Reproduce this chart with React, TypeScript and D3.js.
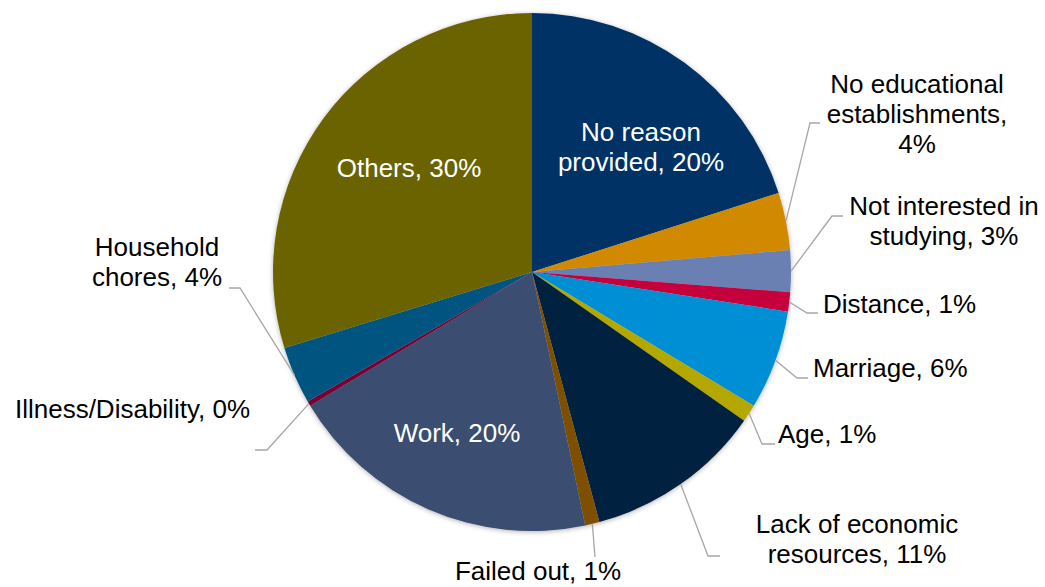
import React from 'react';
import * as d3 from 'd3';

// reasons for not attending school, share in percent (clockwise from 12 o'clock)
const categories = [
  'No reason provided',
  'No educational establishments',
  'Not interested in studying',
  'Distance',
  'Marriage',
  'Age',
  'Lack of economic resources',
  'Failed out',
  'Work',
  'Illness/Disability',
  'Household chores',
  'Others',
];
const values = [20.1, 3.6, 2.6, 1.2, 6.2, 1.1, 11.1, 0.9, 19.7, 0.3, 3.6, 29.8];
const colors = [
  '#003366', '#D18A00', '#6A80B2', '#C5003E', '#008FD5', '#B3A700',
  '#00203F', '#7F5000', '#3B4D70', '#7A0033', '#005580', '#6A6400',
];

// label layout: words per line, anchor point, text-anchor, leader elbow/end (null = inside)
type Lay = { words: number[]; x: number; y: number; anchor: string; inside?: boolean; elbow?: [number, number]; end?: [number, number] };
const layout: Lay[] = [
  { words: [2, 2], x: 641, y: 141, anchor: 'middle', inside: true },
  { words: [2, 1, 1], x: 917, y: 93, anchor: 'middle', elbow: [810, 123], end: [820, 123] },
  { words: [3, 2], x: 944, y: 215, anchor: 'middle', elbow: [832, 216], end: [843, 216] },
  { words: [2], x: 823, y: 313, anchor: 'start', elbow: [807, 313], end: [818, 313] },
  { words: [2], x: 813, y: 377, anchor: 'start', elbow: [797, 378], end: [808, 378] },
  { words: [2], x: 778, y: 443, anchor: 'start', elbow: [762, 444], end: [775, 444] },
  { words: [3, 2], x: 857, y: 533, anchor: 'middle', elbow: [708, 556], end: [720, 556] },
  { words: [3], x: 538, y: 580, anchor: 'middle', elbow: [595, 557], end: [595, 557] },
  { words: [2], x: 457, y: 442, anchor: 'middle', inside: true },
  { words: [2], x: 250, y: 418, anchor: 'end', elbow: [267, 450], end: [255, 450] },
  { words: [1, 2], x: 157, y: 256, anchor: 'middle', elbow: [240, 288], end: [229, 288] },
  { words: [2], x: 409, y: 177, anchor: 'middle', inside: true },
];

const W = 1045;
const H = 587;
const cx = 532;
const cy = 272;
const R = 259;
const lineH = 30;

function splitLines(text: string, words: number[]) {
  const parts = text.split(' ');
  const out: string[] = [];
  let i = 0;
  words.forEach((n) => {
    out.push(parts.slice(i, i + n).join(' '));
    i += n;
  });
  return out;
}

export default function App() {
  const pie = d3.pie<number>().sort(null).startAngle(0).endAngle(2 * Math.PI);
  const arcs = pie(values);
  const arc = d3.arc<d3.PieArcDatum<number>>().innerRadius(0).outerRadius(R);

  return (
    <svg width={W} height={H} style={{ position: 'absolute', left: 0, top: 0, background: '#fff' }}
      fontFamily="'Liberation Sans', Arial, sans-serif">
      <defs>
        <filter id="shadow" x="-10%" y="-10%" width="120%" height="120%">
          <feDropShadow dx="0" dy="1" stdDeviation="2.5" floodColor="#000" floodOpacity="0.3" />
        </filter>
      </defs>
      <g transform={`translate(${cx},${cy})`} filter="url(#shadow)">
        {arcs.map((a, i) => (
          <path key={i} d={arc(a) || ''} fill={colors[i]} />
        ))}
      </g>
      {arcs.map((a, i) => {
        const lay = layout[i];
        if (lay.inside || !lay.elbow || !lay.end) return null;
        const mid = (a.startAngle + a.endAngle) / 2;
        const sx = cx + R * Math.sin(mid);
        const sy = cy - R * Math.cos(mid);
        const pts: [number, number][] = [[sx, sy], lay.elbow, lay.end];
        return (
          <path key={'l' + i} d={d3.line()(pts) || ''} fill="none" stroke="#A6A6A6" strokeWidth={1.3} />
        );
      })}
      {categories.map((c, i) => {
        const lay = layout[i];
        const text = `${c}, ${Math.round(values[i])}%`;
        const lines = splitLines(text, lay.words);
        return (
          <text key={'t' + i} x={lay.x} y={lay.y} textAnchor={lay.anchor} fontSize={26}
            fill={lay.inside ? '#fff' : '#000'}>
            {lines.map((ln, j) => (
              <tspan key={j} x={lay.x} y={lay.y + j * lineH}>{ln}</tspan>
            ))}
          </text>
        );
      })}
    </svg>
  );
}
